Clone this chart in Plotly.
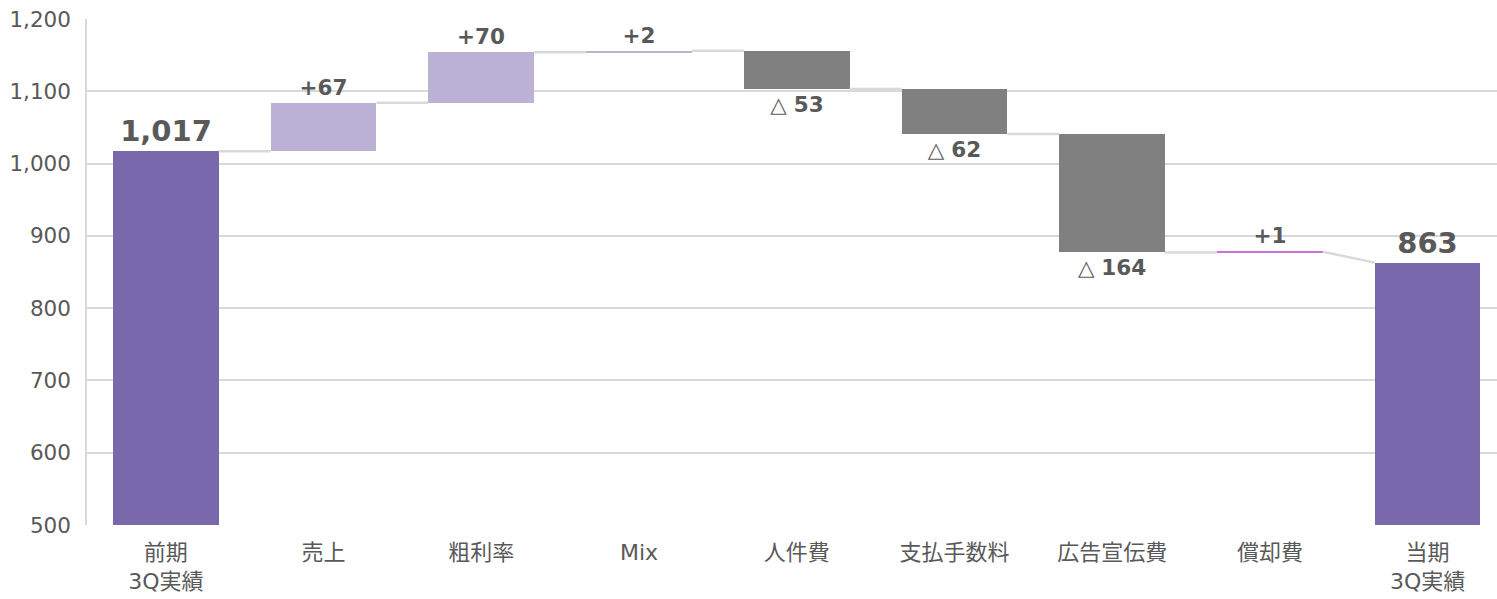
import plotly.graph_objects as go

# Operating profit bridge: previous-year 3Q actual -> current-year 3Q actual
categories = ["前期<br>3Q実績", "売上", "粗利率", "Mix", "人件費", "支払手数料", "広告宣伝費", "償却費", "当期<br>3Q実績"]
values = [1017, 67, 70, 2, -53, -62, -164, 1, 863]
kinds = ["total", "delta", "delta", "delta", "delta", "delta", "delta", "delta", "total"]
y_ticks = [500, 600, 700, 800, 900, 1000, 1100, 1200]

TOTAL_COLOR = "#7A68AD"
UP_COLOR = "#BBB2D5"
DOWN_COLOR = "#808080"
SMALL_UP_COLOR = "#C873D8"
TEXT_COLOR = "#595959"
GRID_COLOR = "#D9D9D9"
FONT = "DejaVu Sans, Noto Sans CJK JP, sans-serif"
BAR_W = 0.67

xs = list(range(len(categories)))
bases, heights, starts, ends, colors, texts, sizes = [], [], [], [], [], [], []
level = 0
for v, k in zip(values, kinds):
    if k == "total":
        bases.append(0)
        heights.append(v)
        starts.append(v)
        level = v
        ends.append(v)
        colors.append(TOTAL_COLOR)
        texts.append(f"<b>{v:,}</b>")
        sizes.append(29)
    else:
        bases.append(level)
        heights.append(v)
        starts.append(level)
        level += v
        ends.append(level)
        if v >= 0:
            colors.append(UP_COLOR if v > 1 else SMALL_UP_COLOR)
            texts.append(f"<b>+{v}</b>")
        else:
            colors.append(DOWN_COLOR)
            texts.append(f"△ <b>{abs(v)}</b>")
        sizes.append(21.5)

fig = go.Figure()

# connector lines from each bar's end to the next bar's starting level
cx, cy = [], []
for i in range(len(xs) - 1):
    cx += [xs[i] + BAR_W / 2, xs[i + 1] - BAR_W / 2, None]
    cy += [ends[i], starts[i + 1], None]
fig.add_trace(go.Scatter(
    x=cx, y=cy, mode="lines",
    line=dict(color=GRID_COLOR, width=2.5),
    hoverinfo="skip", showlegend=False,
))

fig.add_trace(go.Bar(
    x=xs, y=heights, base=bases, width=BAR_W,
    marker=dict(color=colors, line=dict(width=0)),
    text=texts, textposition="outside", textangle=0,
    constraintext="none", cliponaxis=False,
    textfont=dict(family=FONT, size=sizes, color=TEXT_COLOR),
    showlegend=False,
))

fig.update_layout(
    width=1497, height=599,
    margin=dict(l=87, r=0, t=19, b=74),
    plot_bgcolor="white", paper_bgcolor="white",
    font=dict(family=FONT, color=TEXT_COLOR),
    bargap=0,
)
fig.update_xaxes(
    range=[-0.5, 8.44],
    tickmode="array", tickvals=xs, ticktext=categories,
    tickfont=dict(family=FONT, size=22, color=TEXT_COLOR),
    showgrid=False, zeroline=False, showline=False,
    ticks="", ticklabelstandoff=12,
)
fig.update_yaxes(
    range=[500, 1200],
    tickmode="array", tickvals=y_ticks, tickformat=",d",
    tickfont=dict(family=FONT, size=21.5, color=TEXT_COLOR),
    showgrid=True, gridcolor=GRID_COLOR, gridwidth=1.5,
    zeroline=False, showline=True, linecolor=GRID_COLOR, linewidth=1.5,
    ticks="", ticklabelstandoff=10,
)

fig.write_html("out.html")
